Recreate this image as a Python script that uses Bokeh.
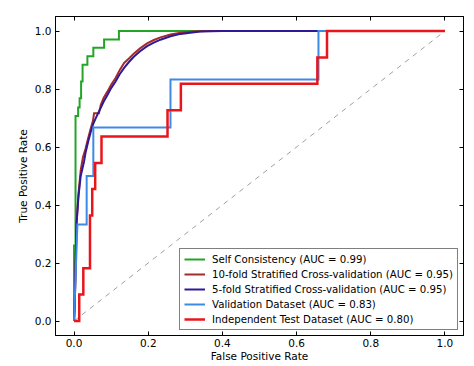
from bokeh.plotting import figure
from bokeh.models import LinearAxis, FixedTicker, PrintfTickFormatter, Range1d
from bokeh.embed import file_html
from bokeh.resources import INLINE

# ---- data ----
tick_values = [0.0, 0.2, 0.4, 0.6, 0.8, 1.0]

self_x = [0.0, 0.0, 0.004, 0.004, 0.011, 0.011, 0.015, 0.015, 0.019, 0.019, 0.023, 0.023,
          0.036, 0.036, 0.052, 0.052, 0.081, 0.081, 0.121, 0.121, 1.0]
self_y = [0.0, 0.26, 0.26, 0.707, 0.707, 0.736, 0.736, 0.768, 0.768, 0.826, 0.826, 0.884,
          0.884, 0.913, 0.913, 0.942, 0.942, 0.971, 0.971, 1.0, 1.0]

cv10_x = [0.0, 0.002, 0.007, 0.012, 0.018, 0.024, 0.031, 0.038, 0.045, 0.051, 0.054, 0.067,
          0.072, 0.080, 0.090, 0.100, 0.112, 0.123, 0.135, 0.148, 0.161, 0.178, 0.197, 0.215,
          0.233, 0.260, 0.287, 0.320, 0.360, 1.0]
cv10_y = [0.0, 0.06, 0.34, 0.44, 0.52, 0.565, 0.594, 0.63, 0.664, 0.69, 0.716, 0.716,
          0.745, 0.77, 0.791, 0.815, 0.838, 0.865, 0.89, 0.905, 0.922, 0.94, 0.957, 0.969,
          0.978, 0.988, 0.994, 0.998, 1.0, 1.0]

cv5_x = [0.0, 0.002, 0.0065, 0.012, 0.018, 0.027, 0.031, 0.038, 0.045, 0.051, 0.058, 0.065,
         0.072, 0.080, 0.090, 0.100, 0.112, 0.123, 0.135, 0.148, 0.161, 0.178, 0.197, 0.215,
         0.233, 0.260, 0.287, 0.340, 0.400, 1.0]
cv5_y = [0.0, 0.06, 0.333, 0.43, 0.50, 0.55, 0.58, 0.618, 0.652, 0.677, 0.698, 0.717,
         0.735, 0.757, 0.779, 0.803, 0.826, 0.851, 0.873, 0.893, 0.911, 0.93, 0.948, 0.96,
         0.970, 0.982, 0.990, 0.998, 1.0, 1.0]

val_x = [0.0, 0.009, 0.034, 0.034, 0.052, 0.052, 0.26, 0.26, 0.659, 0.659, 1.0]
val_y = [0.0, 0.333, 0.333, 0.5, 0.5, 0.667, 0.667, 0.833, 0.833, 1.0, 1.0]

ind_x = [0.0, 0.014, 0.014, 0.025, 0.025, 0.043, 0.043, 0.049, 0.049, 0.057, 0.057, 0.074,
         0.074, 0.252, 0.252, 0.288, 0.288, 0.656, 0.656, 0.682, 0.682, 1.0]
ind_y = [0.0, 0.0, 0.091, 0.091, 0.182, 0.182, 0.364, 0.364, 0.455, 0.455, 0.545, 0.545,
         0.636, 0.636, 0.727, 0.727, 0.818, 0.818, 0.909, 0.909, 1.0, 1.0]

diag_x = [0.0, 1.0]
diag_y = [0.0, 1.0]

labels = ["Self Consistency (AUC = 0.99)",
          "10-fold Stratified Cross-validation (AUC = 0.95)",
          "5-fold Stratified Cross-validation (AUC = 0.95)",
          "Validation Dataset (AUC = 0.83)",
          "Independent Test Dataset (AUC = 0.80)"]

FONT = "DejaVu Sans"

p = figure(width=466, height=364, title=None,
           x_range=Range1d(-0.05, 1.05), y_range=Range1d(-0.05, 1.05),
           output_backend="svg", toolbar_location=None,
           min_border_left=55, min_border_top=16, min_border_right=3, min_border_bottom=0)
p.background_fill_color = "white"
p.border_fill_color = "white"
p.outline_line_color = "black"
p.xgrid.visible = False
p.ygrid.visible = False


def style_axis(ax, show_labels):
    ax.ticker = FixedTicker(ticks=tick_values)
    ax.formatter = PrintfTickFormatter(format="%.1f")
    ax.minor_tick_line_color = None
    ax.major_tick_in = 4
    ax.major_tick_out = 0
    ax.major_tick_line_color = "black"
    ax.axis_line_color = "black"
    ax.major_label_text_font = FONT
    ax.axis_label_text_font = FONT
    ax.axis_label_text_font_style = "normal"
    ax.axis_label_text_color = "black"
    if show_labels:
        ax.major_label_text_color = "black"
        ax.major_label_text_font_size = "10.5px"
        ax.axis_label_text_font_size = "10.5px"
        ax.major_label_standoff = 3
        ax.axis_label_standoff = 0
    else:
        ax.major_label_text_color = None
        ax.major_label_text_font_size = "1px"
        ax.major_label_standoff = 0


style_axis(p.xaxis[0], True)
style_axis(p.yaxis[0], True)
p.xaxis.axis_label = "False Positive Rate"
p.yaxis.axis_label = "True Positive Rate"
p.yaxis.major_label_standoff = 4
p.yaxis.axis_label_standoff = 3

top_axis = LinearAxis()
style_axis(top_axis, False)
p.add_layout(top_axis, "above")
right_axis = LinearAxis()
style_axis(right_axis, False)
p.add_layout(right_axis, "right")

p.line(diag_x, diag_y, line_color="#a0a0a0", line_width=1, line_dash="5 5")

p.line(self_x, self_y, line_color="#22a527", line_width=2, line_join="miter",
       legend_label=labels[0])
p.line(cv10_x, cv10_y, line_color="#a52a2a", line_width=2, line_join="miter",
       legend_label=labels[1])
p.line(cv5_x, cv5_y, line_color="#2e1a96", line_width=2, line_join="miter",
       legend_label=labels[2])
p.line(val_x, val_y, line_color="#3d8ae6", line_width=2, line_join="miter",
       legend_label=labels[3])
p.line(ind_x, ind_y, line_color="#e8161c", line_width=2.5, line_join="miter",
       legend_label=labels[4])

lg = p.legend[0]
lg.location = "bottom_right"
lg.margin = 5
lg.padding = 4
lg.spacing = 3
lg.label_height = 12
lg.glyph_height = 12
lg.glyph_width = 21
lg.label_standoff = 7
lg.label_text_font = FONT
lg.label_text_font_size = "10.2px"
lg.label_text_color = "black"
lg.border_line_color = "black"
lg.border_line_width = 1
lg.background_fill_color = "white"
lg.background_fill_alpha = 1.0

open("out.html", "w").write(file_html(p, INLINE))
